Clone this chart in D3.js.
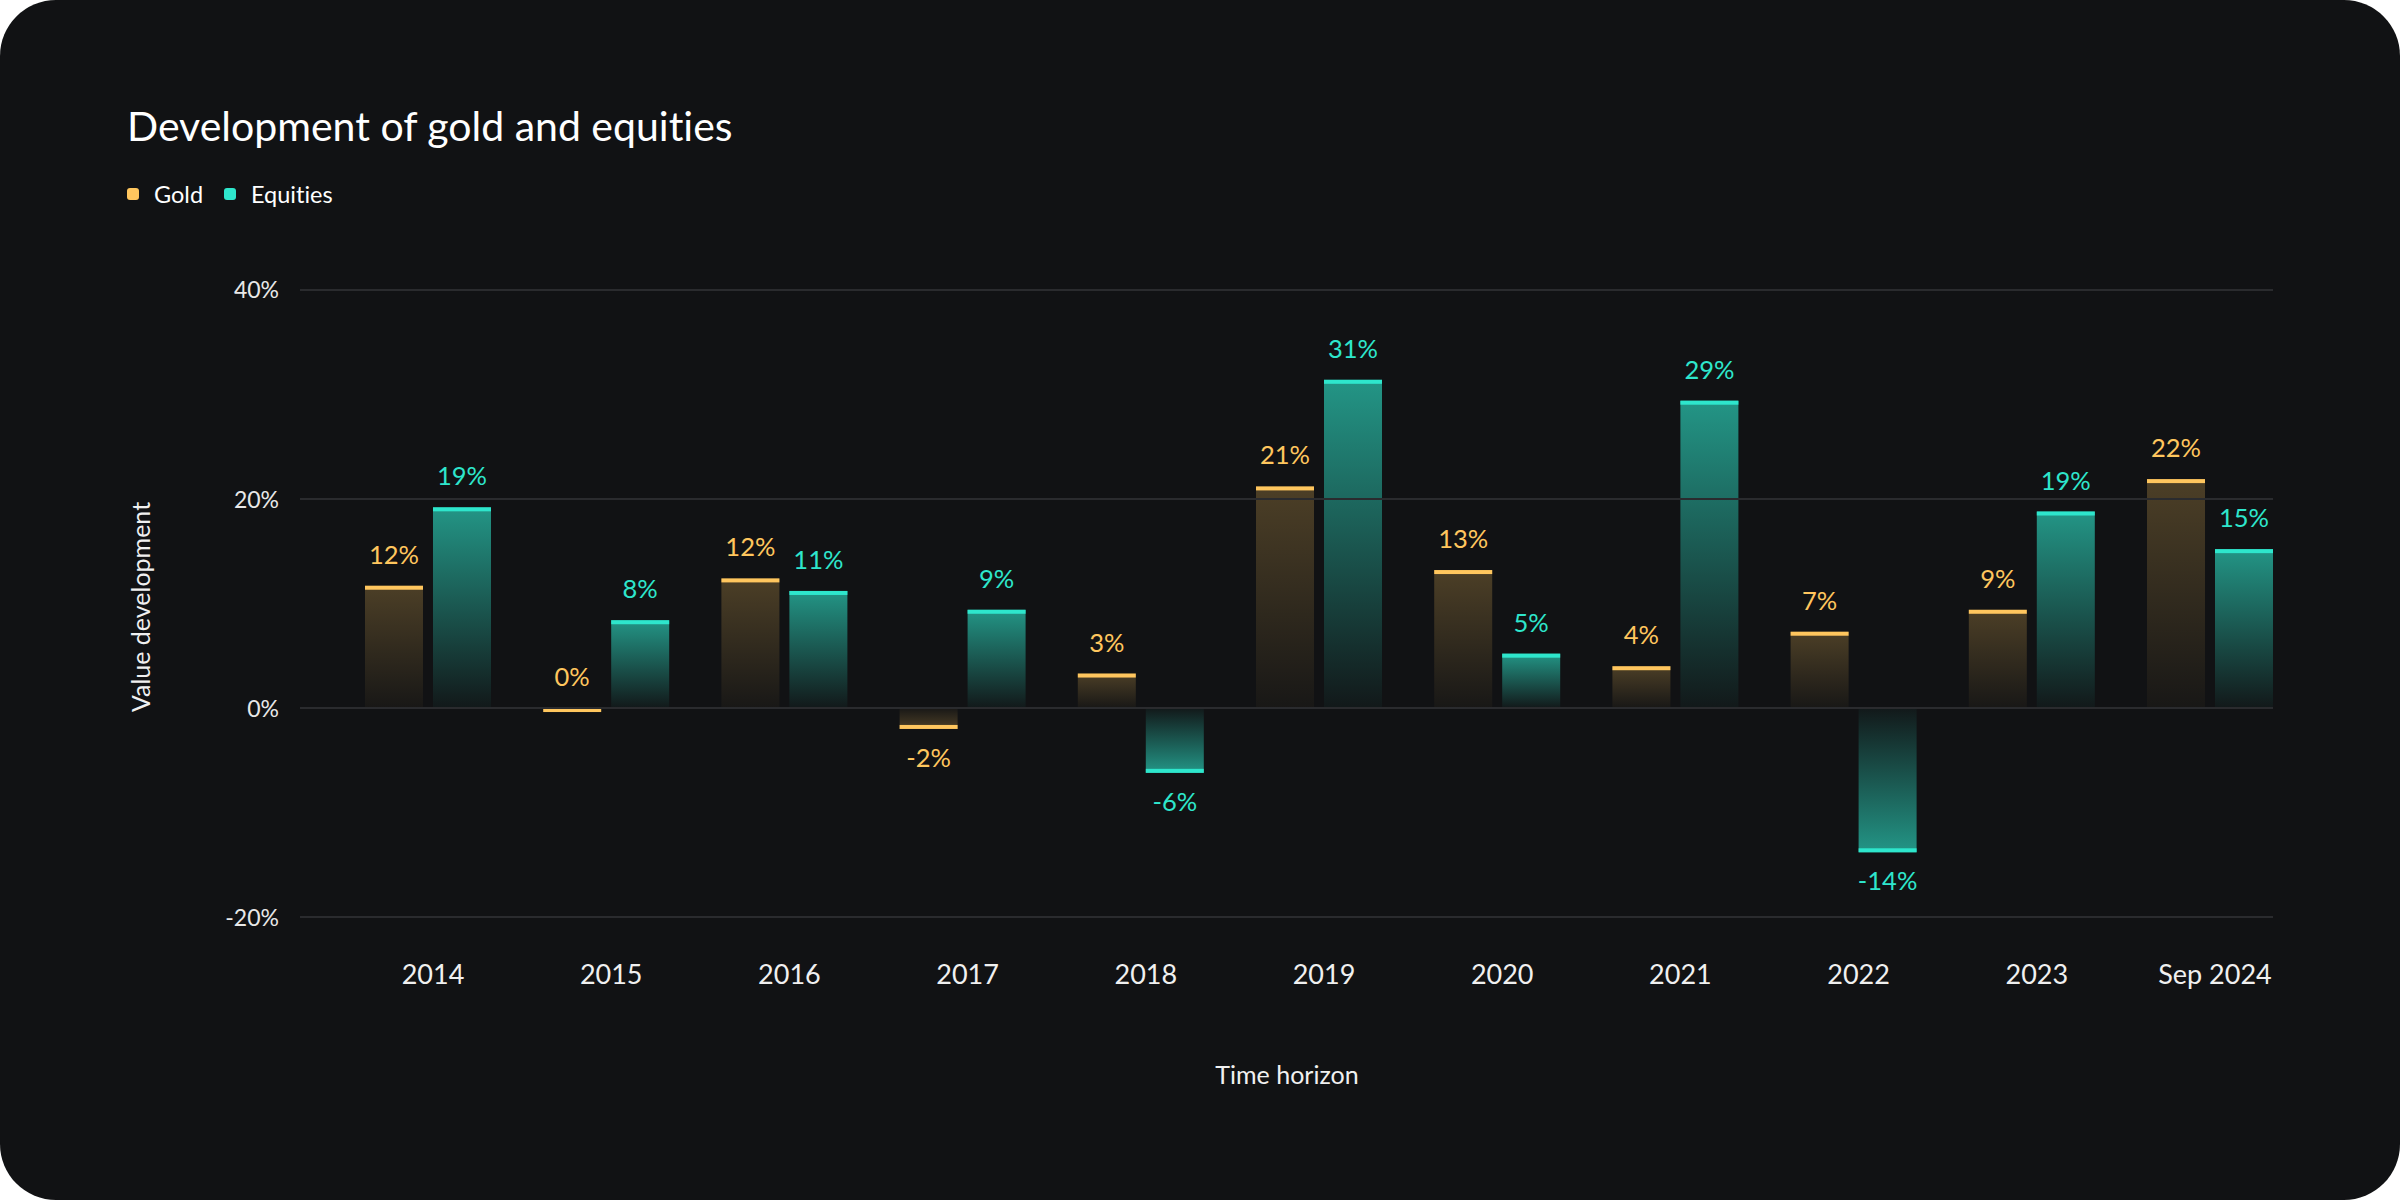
<!DOCTYPE html>
<html><head><meta charset="utf-8">
<script src="https://cdn.jsdelivr.net/npm/d3@7"></script>
<style>
html,body{margin:0;padding:0;background:#ffffff;}
svg{display:block;font-family:Lato,"Open Sans",sans-serif;font-variant-ligatures:none;}
</style>
</head><body>
<svg id="chart" width="2400" height="1200"></svg>
<script>
const categories = ["2014","2015","2016","2017","2018","2019","2020","2021","2022","2023","Sep 2024"];
const seriesNames = ["Gold","Equities"];
const goldValues = [11.7, 0, 12.4, -2.0, 3.3, 21.2, 13.2, 4.0, 7.3, 9.4, 21.9];
const equityValues = [19.2, 8.4, 11.2, 9.4, -6.2, 31.4, 5.2, 29.4, -13.8, 18.8, 15.2];
const yTicks = [-20, 0, 20, 40];
const titleText = "Development of gold and equities";
const xTitle = "Time horizon";
const yTitle = "Value development";

const colors = {Gold: "#FFC65E", Equities: "#2EE6CC"};
const topAlpha = {Gold: 0.25, Equities: 0.62};
const bg = "#111214";

const svg = d3.select("#chart");
const defs = svg.append("defs");

svg.append("rect").attr("x",0).attr("y",0).attr("width",2400).attr("height",1200)
  .attr("rx",56).attr("ry",56).attr("fill",bg);

seriesNames.forEach(s => {
  ["up","down"].forEach(dir => {
    const g = defs.append("linearGradient").attr("id", `g-${s}-${dir}`)
      .attr("x1",0).attr("x2",0).attr("y1", dir==="up"?0:1).attr("y2", dir==="up"?1:0);
    g.append("stop").attr("offset","0%").attr("stop-color",colors[s]).attr("stop-opacity",topAlpha[s]);
    g.append("stop").attr("offset","100%").attr("stop-color",colors[s]).attr("stop-opacity",0.03);
  });
});

const data = categories.map((c,i) => ({cat:c, values:[
  {s:"Gold", v:goldValues[i]}, {s:"Equities", v:equityValues[i]}]}));

const x = d3.scaleBand().domain(categories).range([365, 2273]).paddingInner(0.293).paddingOuter(0);
const xi = d3.scaleBand().domain(seriesNames).range([0, x.bandwidth()]).paddingInner(0.147).paddingOuter(0);
const y = d3.scaleLinear().domain([-20, 40]).range([917.1, 289.9]);

svg.append("text").attr("x",127).attr("y",141).attr("fill","#ffffff")
  .attr("font-size",41).text(titleText);

const leg = svg.append("g");
const legX = [127, 224];
seriesNames.forEach((s,i) => {
  leg.append("rect").attr("x",legX[i]).attr("y",188).attr("width",12).attr("height",12)
    .attr("rx",3).attr("fill",colors[s]);
  leg.append("text").attr("x",legX[i]+27).attr("y",203).attr("fill","#ffffff")
    .attr("font-size",23.5).text(s);
});

const groups = svg.append("g").selectAll("g").data(data).join("g")
  .attr("transform", d => `translate(${x(d.cat)},0)`);

groups.selectAll("rect.body").data(d => d.values).join("rect").attr("class","body")
  .attr("x", d => xi(d.s)).attr("width", xi.bandwidth())
  .attr("y", d => Math.min(y(d.v), y(0)))
  .attr("height", d => Math.abs(y(d.v) - y(0)))
  .attr("fill", d => `url(#g-${d.s}-${d.v>=0?"up":"down"})`);

const grid = svg.append("g");
grid.selectAll("line").data(yTicks).join("line")
  .attr("x1",300).attr("x2",2273).attr("y1",d=>y(d)).attr("y2",d=>y(d))
  .attr("stroke","#2a2b2e").attr("stroke-width",2);

groups.selectAll("rect.cap").data(d => d.values).join("rect").attr("class","cap")
  .attr("x", d => xi(d.s)).attr("width", xi.bandwidth())
  .attr("y", d => d.v >= 0 ? y(d.v) : y(d.v) - 4)
  .attr("height", 4)
  .attr("fill", d => colors[d.s]);

groups.selectAll("text.val").data(d => d.values).join("text").attr("class","val")
  .attr("x", d => xi(d.s) + xi.bandwidth()/2)
  .attr("y", d => d.v >= 0 ? y(d.v) - 22 : y(d.v) + 38)
  .attr("text-anchor","middle").attr("font-size",25.5)
  .attr("fill", d => colors[d.s])
  .text(d => `${Math.round(d.v)}%`);

const yAxis = d3.axisLeft(y).tickValues(yTicks).tickFormat(d => `${d}%`).tickSize(0).tickPadding(0);
const yg = svg.append("g").attr("transform","translate(279,0)").call(yAxis);
yg.select(".domain").remove();
yg.selectAll("text").attr("font-size",23).attr("fill","#e8e8e8").attr("font-family","Lato, sans-serif").attr("dy","0.35em");

const xAxis = d3.axisBottom(x).tickSize(0).tickPadding(0);
const xg = svg.append("g").attr("transform","translate(5,984)").call(xAxis);
xg.select(".domain").remove();
xg.selectAll("text").attr("font-size",27).attr("fill","#f0f0f0").attr("font-family","Lato, sans-serif").attr("dy","0");

svg.append("text").attr("x",1287).attr("y",1084).attr("text-anchor","middle")
  .attr("font-size",25).attr("fill","#f0f0f0").text(xTitle);
svg.append("text").attr("transform","translate(150,607) rotate(-90)").attr("text-anchor","middle")
  .attr("font-size",25).attr("fill","#f0f0f0").text(yTitle);
</script>
</body></html>
